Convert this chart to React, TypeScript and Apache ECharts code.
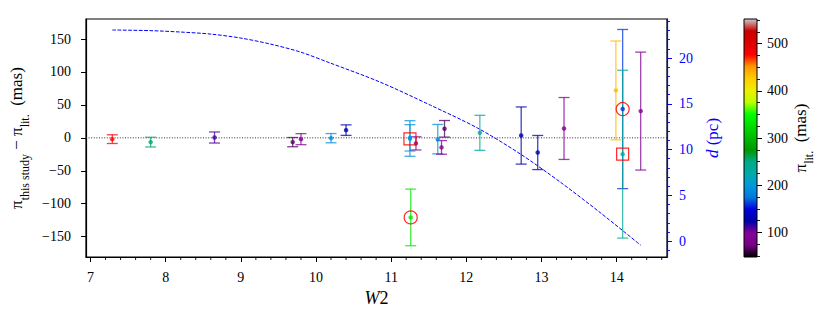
import React, { useEffect, useRef } from "react";
import * as echarts from "echarts";

// ---- data ----
const W2 = [7.29, 7.8, 8.65, 9.69, 9.8, 10.2, 10.4, 11.26, 11.25, 11.25, 11.33, 11.62, 11.67, 11.71, 12.18, 12.73, 12.95, 13.3, 13.99, 14.08, 14.08, 14.32];
const dPi = [-2, -6.5, 0.5, -6.5, -2, -0.5, 11.7, -120.8, -1, 0, -8.4, -2, -14.5, 13.7, 7.6, 3.5, -22.3, 14.2, 72, 43.7, -24.8, 40.6];
const dPiErr = [6.6, 7.4, 8.4, 7, 8.4, 7, 8, 43, 27, 20, 10, 22.3, 10.4, 12.6, 26.6, 43.4, 25.9, 47, 75, 120.8, 127.4, 89.5];
const piLit = [480, 255, 110, 65, 90, 190, 130, 335, 190, 200, 90, 190, 90, 65, 240, 125, 125, 90, 435, 160, 240, 90];

const circledW2 = [11.26, 14.08];
const circledVal = [-120.8, 43.7];
const squaredW2 = [11.25, 14.08];
const squaredVal = [-1.5, -24.8];

const curveW2 = [7.29, 7.79, 8.19, 8.59, 8.99, 9.39, 9.79, 10.19, 10.85, 11.52, 12.15, 12.72, 13.25, 13.79, 14.32];
const curveD = [23.06, 22.99, 22.84, 22.62, 22.19, 21.53, 20.66, 19.45, 17.38, 14.86, 12.35, 9.51, 6.45, 3.06, -0.44];

const xTicks = [7, 8, 9, 10, 11, 12, 13, 14];
const yTicks = [-150, -100, -50, 0, 50, 100, 150];
const dTicks = [0, 5, 10, 15, 20];
const cbTicks = [100, 200, 300, 400, 500];

const X_MIN = 6.94, X_MAX = 14.67;
const Y_MIN = -180.9, Y_MAX = 180.4;
const D_MIN = -1.73, D_MAX = 24.26;
const CB_MIN = 48, CB_MAX = 552;

// nipy_spectral colormap control points
const NIPY: number[][] = [
  [0, 0, 0], [0.4667, 0, 0.5333], [0.5333, 0, 0.6], [0, 0, 0.6667], [0, 0, 0.8667],
  [0, 0.4667, 0.8667], [0, 0.6, 0.8667], [0, 0.6667, 0.6667], [0, 0.6667, 0.5333], [0, 0.6, 0],
  [0, 0.7333, 0], [0, 0.8667, 0], [0, 1, 0], [0.7333, 1, 0], [0.9333, 0.9333, 0],
  [1, 0.8, 0], [1, 0.6, 0], [1, 0, 0], [0.8667, 0, 0], [0.8, 0, 0], [0.8, 0.8, 0.8],
];
const toHex = (c: number[]) =>
  "#" + c.map((v) => Math.round(v * 255).toString(16).padStart(2, "0")).join("");
function cmap(v: number): string {
  let t = (v - CB_MIN) / (CB_MAX - CB_MIN);
  t = Math.max(0, Math.min(1, t));
  const p = t * 20;
  const i = Math.min(19, Math.floor(p));
  const f = p - i;
  const a = NIPY[i], b = NIPY[i + 1];
  return toHex([0, 1, 2].map((k) => a[k] + (b[k] - a[k]) * f));
}

const FONT = "'Liberation Serif', 'DejaVu Serif', serif";
const range = (a: number, b: number, s: number) => {
  const out: number[] = [];
  for (let v = a; v <= b + 1e-9; v += s) out.push(Math.round(v * 1000) / 1000);
  return out;
};
const xMinor = range(7, 14.6, 0.2).filter((v) => Math.abs(v - Math.round(v)) > 1e-6);
const dMinor = range(-1, 24, 1).filter((v) => v % 5 !== 0);
const cbMinor = range(50, 550, 25).filter((v) => v % 100 !== 0);
const minus = (v: number) => (v < 0 ? "\u2212" + Math.abs(v) : String(v));

export default function App() {
  const ref = useRef<HTMLDivElement>(null);
  useEffect(() => {
    document.body.style.margin = "0";
    if (!ref.current) return;
    const chart = echarts.init(ref.current, undefined, { renderer: "svg" });
    const errData = W2.map((x, i) => [x, dPi[i], dPiErr[i], piLit[i]]);
    const ptData = W2.map((x, i) => ({ value: [x, dPi[i]], itemStyle: { color: cmap(piLit[i]) } }));
    const stops = NIPY.map((c, i) => ({ offset: i / 20, color: toHex(c) }));
    const lbl = { fontFamily: FONT, fontSize: 14, color: "#000" };
    const subRich = {
      m: { fontFamily: FONT, fontSize: 17, color: "#000", lineHeight: 23, verticalAlign: "top" },
      s: { fontFamily: FONT, fontSize: 12, color: "#000", lineHeight: 18, verticalAlign: "bottom" },
    };
    const option: any = {
      animation: false,
      grid: [
        { left: 86, top: 19, width: 581, height: 238, show: true, borderColor: "#000", borderWidth: 1.2 },
        { left: 744, top: 19, width: 13, height: 238 },
      ],
      xAxis: [
        {
          type: "value", gridIndex: 0, min: X_MIN, max: X_MAX, position: "bottom",
          axisLine: { show: true, onZero: false, lineStyle: { color: "#000", width: 1.2 } },
          axisTick: { show: true, customValues: xTicks, length: 5, lineStyle: { color: "#000", width: 1 } },
          axisLabel: { customValues: xTicks, margin: 13, ...lbl },
          splitLine: { show: false },
          name: "{i|W}{n|2}", nameLocation: "middle", nameGap: 31,
          nameTextStyle: {
            rich: {
              i: { fontFamily: FONT, fontSize: 18, fontStyle: "italic", color: "#000" },
              n: { fontFamily: FONT, fontSize: 18, color: "#000" },
            },
          },
        },
        { type: "value", gridIndex: 1, min: 0, max: 1, show: false, axisLine: { onZero: false } },
      ],
      yAxis: [
        {
          type: "value", gridIndex: 0, min: Y_MIN, max: Y_MAX, position: "left",
          axisLine: { show: true, onZero: false, lineStyle: { color: "#000", width: 1.2 } },
          axisTick: { show: true, customValues: yTicks, length: 5, lineStyle: { color: "#000", width: 1 } },
          axisLabel: { customValues: yTicks, margin: 15, formatter: minus, ...lbl },
          splitLine: { show: false },
          name: "{m|π}{s|this study}{m| \u2212 π}{s|lit.}{m|  (mas)}",
          nameLocation: "middle", nameRotate: 90, nameGap: 53,
          nameTextStyle: { rich: subRich },
        },
        {
          type: "value", gridIndex: 0, min: D_MIN, max: D_MAX, position: "right",
          axisLine: { show: true, onZero: false, lineStyle: { color: "#0000ff", width: 1.2 } },
          axisTick: { show: true, customValues: dTicks, length: 5, lineStyle: { color: "#0000ff", width: 1 } },
          axisLabel: { customValues: dTicks, margin: 12, ...lbl, color: "#0000ff" },
          splitLine: { show: false },
          name: "{i|d}{n| (pc)}", nameLocation: "middle", nameRotate: 90, nameGap: 34,
          nameTextStyle: {
            rich: {
              i: { fontFamily: FONT, fontSize: 17, fontStyle: "italic", color: "#0000ff" },
              n: { fontFamily: FONT, fontSize: 17, color: "#0000ff" },
            },
          },
        },
        {
          type: "value", gridIndex: 0, min: D_MIN, max: D_MAX, position: "right",
          axisLine: { show: false, onZero: false },
          axisTick: { show: true, customValues: dMinor, length: 3, lineStyle: { color: "#0000ff", width: 0.9 } },
          axisLabel: { show: false },
          splitLine: { show: false },
        },
        {
          type: "value", gridIndex: 1, min: CB_MIN, max: CB_MAX, position: "right",
          axisLine: { show: false, onZero: false },
          axisTick: { show: true, customValues: cbTicks, length: 5, lineStyle: { color: "#000", width: 1 } },
          axisLabel: { customValues: cbTicks, margin: 10, ...lbl },
          splitLine: { show: false },
          name: "{m|π}{s|lit.}{m|  (mas)}", nameLocation: "middle", nameRotate: 90, nameGap: 35,
          nameTextStyle: { rich: subRich },
        },
        {
          type: "value", gridIndex: 1, min: CB_MIN, max: CB_MAX, position: "right",
          axisLine: { show: false, onZero: false },
          axisTick: { show: true, customValues: cbMinor, length: 3, lineStyle: { color: "#000", width: 0.9 } },
          axisLabel: { show: false },
          splitLine: { show: false },
        },
      ],
      series: [
        {
          type: "line", xAxisIndex: 0, yAxisIndex: 0, symbol: "none", silent: true,
          data: [[X_MIN, 0], [X_MAX, 0]],
          lineStyle: { color: "#333", width: 1, type: [1, 1.6] }, z: 1,
        },
        {
          // minor ticks on the W2 axis, placed through the axis scale
          type: "custom", xAxisIndex: 0, yAxisIndex: 0, z: 6, clip: false, silent: true,
          data: xMinor.map((v) => [v, Y_MIN]),
          renderItem: (params: any, api: any) => {
            const p = api.coord([api.value(0), api.value(1)]);
            return {
              type: "line",
              shape: { x1: p[0], y1: p[1], x2: p[0], y2: p[1] + 3 },
              style: { stroke: "#000", lineWidth: 0.9 },
            };
          },
        },
        {
          type: "line", xAxisIndex: 0, yAxisIndex: 1, symbol: "none", smooth: 0.3,
          data: curveW2.map((x, i) => [x, curveD[i]]),
          lineStyle: { color: "#0000ff", width: 1, type: [3.7, 1.6] }, z: 2,
        },
        {
          type: "custom", xAxisIndex: 0, yAxisIndex: 0, z: 3,
          data: errData,
          renderItem: (params: any, api: any) => {
            const x = api.value(0), y = api.value(1), e = api.value(2);
            const top = api.coord([x, y + e]);
            const bot = api.coord([x, y - e]);
            const color = cmap(api.value(3));
            const cw = 5.5;
            const st = { stroke: color, lineWidth: 1.3, opacity: 0.75 };
            return {
              type: "group",
              children: [
                { type: "line", shape: { x1: top[0], y1: top[1], x2: bot[0], y2: bot[1] }, style: st },
                { type: "line", shape: { x1: top[0] - cw, y1: top[1], x2: top[0] + cw, y2: top[1] }, style: st },
                { type: "line", shape: { x1: bot[0] - cw, y1: bot[1], x2: bot[0] + cw, y2: bot[1] }, style: st },
              ],
            };
          },
        },
        {
          type: "scatter", xAxisIndex: 0, yAxisIndex: 0, symbol: "circle", symbolSize: 4.5, z: 4,
          data: ptData,
        },
        {
          type: "scatter", xAxisIndex: 0, yAxisIndex: 0, symbol: "circle", symbolSize: 13, z: 5,
          data: circledW2.map((x, i) => [x, circledVal[i]]),
          itemStyle: { color: "none", borderColor: "#ff0000", borderWidth: 1.2, opacity: 0.85 },
        },
        {
          type: "scatter", xAxisIndex: 0, yAxisIndex: 0, symbol: "rect", symbolSize: 12, z: 5,
          data: squaredW2.map((x, i) => [x, squaredVal[i]]),
          itemStyle: { color: "none", borderColor: "#ff0000", borderWidth: 1.2, opacity: 0.85 },
        },
        {
          type: "custom", xAxisIndex: 1, yAxisIndex: 3, z: 1,
          data: [[0, CB_MIN, CB_MAX]],
          renderItem: (params: any, api: any) => {
            const p0 = api.coord([0, api.value(1)]);
            const p1 = api.coord([1, api.value(2)]);
            return {
              type: "rect",
              shape: { x: p0[0], y: p1[1], width: p1[0] - p0[0], height: p0[1] - p1[1] },
              style: {
                fill: new echarts.graphic.LinearGradient(0, 1, 0, 0, stops),
                stroke: "#000", lineWidth: 1,
              },
            };
          },
        },
      ],
    };
    chart.setOption(option);
    return () => chart.dispose();
  }, []);
  return <div ref={ref} style={{ width: 830, height: 319 }} />;
}
